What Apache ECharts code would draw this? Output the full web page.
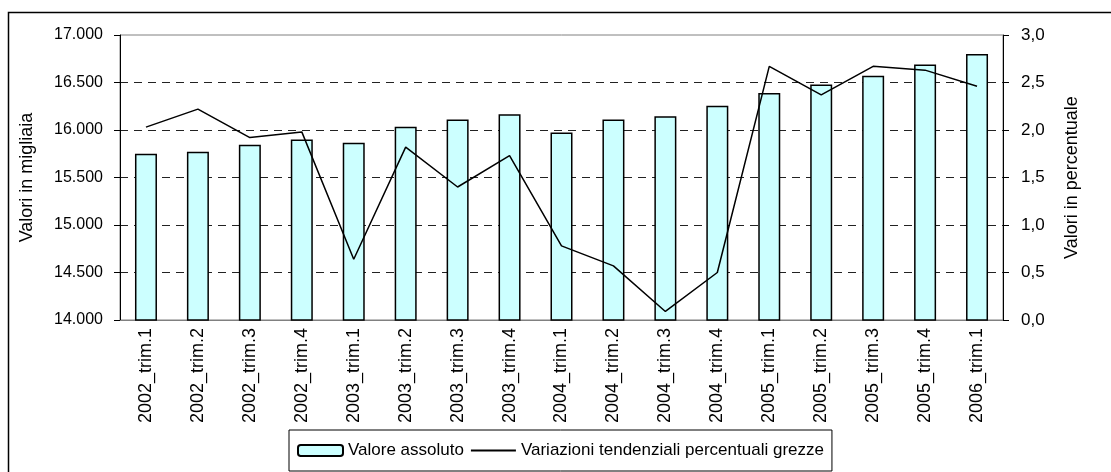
<!DOCTYPE html>
<html>
<head>
<meta charset="utf-8">
<script src="https://cdn.jsdelivr.net/npm/echarts@6/dist/echarts.min.js"></script>
<style>
  html, body { margin: 0; padding: 0; background: #fff; }
  #chart { width: 1111px; height: 472px; }
</style>
</head>
<body>
<div id="chart"></div>
<script>
  // trimestri
  const categories = [
    '2002_trim.1', '2002_trim.2', '2002_trim.3', '2002_trim.4',
    '2003_trim.1', '2003_trim.2', '2003_trim.3', '2003_trim.4',
    '2004_trim.1', '2004_trim.2', '2004_trim.3', '2004_trim.4',
    '2005_trim.1', '2005_trim.2', '2005_trim.3', '2005_trim.4',
    '2006_trim.1'
  ]
  // valori assoluti (migliaia)
  const valoreAssoluto = [
    15750, 15770, 15845, 15900, 15865, 16035, 16110, 16165,
    15975, 16110, 16145, 16255, 16390, 16480, 16570, 16690, 16800
  ]
  // variazioni tendenziali percentuali
  const variazioni = [
    2.03, 2.22, 1.92, 1.98, 0.64, 1.82, 1.40, 1.73,
    0.78, 0.57, 0.09, 0.50, 2.67, 2.37, 2.67, 2.63, 2.46
  ]

  const font = 'Arial, "Liberation Sans", sans-serif'

  let chart = echarts.init(document.getElementById('chart'))
  chart.setOption({
    animation: false,
    textStyle: { fontFamily: font, color: '#000' },
    graphic: [
      {
        type: 'rect',
        shape: { x: 8.5, y: 12.5, width: 1110, height: 470 },
        style: { fill: 'none', stroke: '#000', lineWidth: 1.5 },
        z: -1
      }
    ],
    grid: {
      left: 120,
      right: 108,
      top: 35,
      bottom: 152,
      show: true,
      borderColor: '#808080',
      borderWidth: 1
    },
    legend: {
      left: 289,
      top: 430,
      padding: [12, 8, 12, 8],
      itemGap: 6,
      itemWidth: 45,
      itemHeight: 11,
      borderColor: '#000',
      borderWidth: 1,
      textStyle: { fontSize: 17, fontFamily: font, color: '#000' },
      data: [
        { name: 'Valore assoluto' },
        {
          name: 'Variazioni tendenziali percentuali grezze',
          itemStyle: { color: 'rgba(0,0,0,0)', borderColor: 'rgba(0,0,0,0)', opacity: 0 }
        }
      ]
    },
    xAxis: {
      type: 'category',
      data: categories,
      axisLine: { lineStyle: { color: '#808080', width: 1 } },
      axisTick: { length: 6, lineStyle: { color: '#555' } },
      axisLabel: { rotate: 90, interval: 0, margin: 8, fontSize: 18, color: '#000' }
    },
    yAxis: [
      {
        type: 'value',
        min: 14000,
        max: 17000,
        interval: 500,
        name: 'Valori in migliaia',
        nameLocation: 'middle',
        nameGap: 84,
        nameTextStyle: { fontSize: 18, color: '#000' },
        axisLine: { show: true, lineStyle: { color: '#000', width: 1 } },
        axisTick: { show: true, length: 6, lineStyle: { color: '#000' } },
        axisLabel: {
          fontSize: 16,
          color: '#000',
          margin: 17,
          formatter: v => (v / 1000).toFixed(3)
        },
        splitLine: {
          show: true,
          lineStyle: {
            type: [8, 6],
            width: 1,
            color: ['rgba(0,0,0,0)', '#222', '#222', '#222', '#222', '#222', 'rgba(0,0,0,0)']
          }
        }
      },
      {
        type: 'value',
        min: 0,
        max: 3,
        interval: 0.5,
        position: 'right',
        name: 'Valori in percentuale',
        nameLocation: 'middle',
        nameRotate: 90,
        nameGap: 60,
        nameTextStyle: { fontSize: 18, color: '#000' },
        axisLine: { show: true, lineStyle: { color: '#000', width: 1 } },
        axisTick: { show: true, length: 6, lineStyle: { color: '#000' } },
        axisLabel: {
          fontSize: 17,
          color: '#000',
          margin: 18,
          formatter: v => v.toFixed(1).replace('.', ',')
        },
        splitLine: { show: false }
      }
    ],
    series: [
      {
        name: 'Valore assoluto',
        type: 'bar',
        yAxisIndex: 0,
        barWidth: 22,
        data: valoreAssoluto,
        itemStyle: { color: '#ccffff', borderColor: '#000', borderWidth: 1.5 }
      },
      {
        name: 'Variazioni tendenziali percentuali grezze',
        type: 'line',
        yAxisIndex: 1,
        data: variazioni,
        symbol: 'none',
        lineStyle: { color: '#000', width: 1.5 },
        itemStyle: { color: '#000' }
      }
    ]
  })
</script>
</body>
</html>
